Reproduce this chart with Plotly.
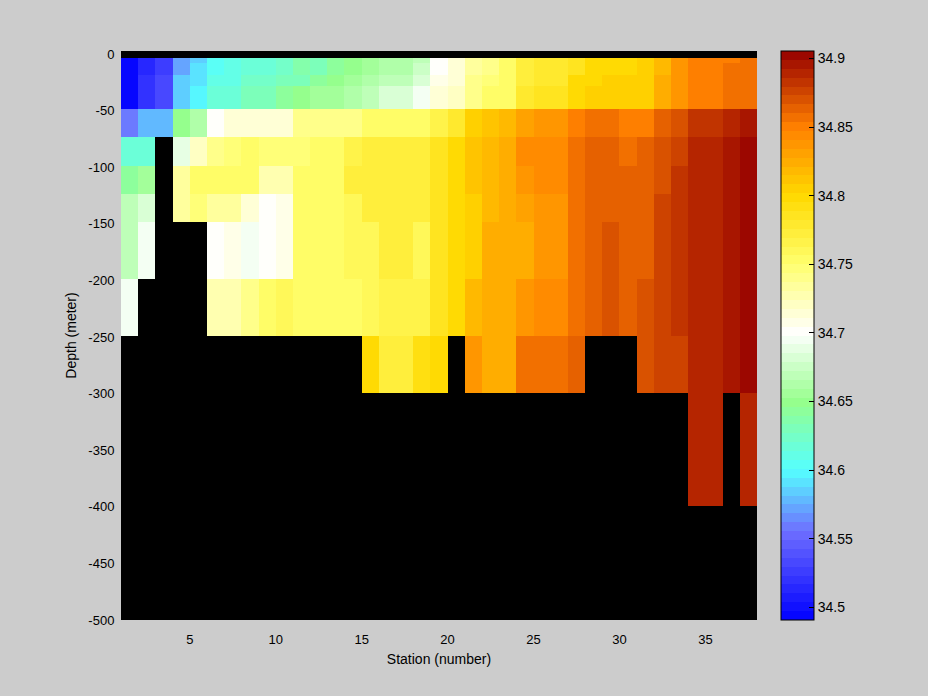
import plotly.graph_objects as go

N = None
stations = list(range(1, 39))
depth_edges = [2.65, -3.5, -8, -18.5, -28.3, -48.7, -73.3, -99, -123.7, -148.4, -198.8, -249.1, -299.5, -399.3, -500]

row_surface = [N] * 37
row_a = [34.495,34.515,34.525,34.572,34.585,34.605,34.612,34.618,34.618,34.624,34.635,34.632,34.640,34.650,34.658,34.665,34.665,34.670,34.700,34.712,34.735,34.740,34.750,34.770,34.780,34.780,34.788,34.797,34.800,34.800,34.805,34.820,34.835,34.850,34.850,34.850,34.857]
row_b = [34.495,34.515,34.525,34.572,34.592,34.605,34.612,34.618,34.618,34.624,34.635,34.632,34.640,34.650,34.658,34.665,34.665,34.678,34.700,34.712,34.735,34.740,34.750,34.770,34.780,34.780,34.788,34.797,34.800,34.800,34.805,34.820,34.835,34.850,34.850,34.857,34.857]
row_c = [34.495,34.520,34.535,34.582,34.592,34.608,34.612,34.625,34.625,34.632,34.630,34.640,34.648,34.655,34.660,34.672,34.672,34.680,34.705,34.712,34.742,34.745,34.750,34.775,34.780,34.782,34.797,34.800,34.807,34.807,34.807,34.825,34.835,34.850,34.850,34.857,34.857]
row_d = [34.495,34.520,34.535,34.582,34.598,34.615,34.620,34.628,34.628,34.645,34.650,34.655,34.655,34.665,34.672,34.682,34.682,34.692,34.715,34.720,34.740,34.752,34.755,34.782,34.785,34.785,34.797,34.802,34.807,34.807,34.807,34.825,34.835,34.850,34.850,34.857,34.857]
row_e = [34.560,34.575,34.580,34.648,34.665,34.703,34.712,34.716,34.716,34.716,34.737,34.737,34.742,34.740,34.750,34.750,34.750,34.755,34.768,34.782,34.805,34.810,34.815,34.830,34.838,34.838,34.850,34.856,34.856,34.852,34.852,34.864,34.871,34.886,34.886,34.892,34.898]
row_f = [34.620,34.620,N,34.690,34.720,34.742,34.746,34.750,34.744,34.748,34.748,34.752,34.755,34.765,34.775,34.775,34.775,34.775,34.788,34.797,34.812,34.820,34.825,34.845,34.845,34.845,34.856,34.864,34.864,34.856,34.864,34.871,34.878,34.889,34.889,34.897,34.903]
row_g = [34.645,34.655,N,34.735,34.750,34.750,34.750,34.750,34.730,34.730,34.750,34.752,34.755,34.770,34.775,34.775,34.775,34.775,34.785,34.797,34.812,34.820,34.825,34.840,34.845,34.845,34.856,34.864,34.864,34.864,34.864,34.868,34.883,34.889,34.889,34.897,34.903]
row_h = [34.672,34.682,N,34.733,34.745,34.733,34.733,34.716,34.703,34.708,34.750,34.750,34.750,34.760,34.772,34.772,34.772,34.772,34.785,34.797,34.805,34.815,34.822,34.832,34.838,34.838,34.856,34.864,34.864,34.864,34.864,34.874,34.883,34.889,34.889,34.897,34.903]
row_i = [34.672,34.698,N,N,N,34.704,34.708,34.698,34.704,34.708,34.750,34.750,34.750,34.760,34.758,34.770,34.770,34.762,34.785,34.797,34.805,34.822,34.827,34.827,34.838,34.838,34.856,34.864,34.871,34.864,34.864,34.874,34.883,34.889,34.889,34.897,34.903]
row_j = [34.698,N,N,N,N,34.730,34.730,34.737,34.755,34.760,34.750,34.750,34.750,34.755,34.762,34.768,34.768,34.768,34.785,34.797,34.815,34.822,34.827,34.838,34.845,34.845,34.856,34.864,34.871,34.864,34.871,34.874,34.883,34.889,34.889,34.897,34.903]
row_k = [N]*14 + [34.797,34.775,34.775,34.790,34.797,N,34.840,34.822,34.827,34.857,34.857,34.857,34.864,N,N,N,34.871,34.877,34.877,34.889,34.889,34.897,34.903]
row_l = [N]*33 + [34.889,34.889,N,34.889]
row_bottom = [N] * 37
salinity = [row_surface,row_a,row_b,row_c,row_d,row_e,row_f,row_g,row_h,row_i,row_j,row_k,row_l,row_bottom]

x_ticks = [5,10,15,20,25,30,35]
y_ticks = [0,-50,-100,-150,-200,-250,-300,-350,-400,-450,-500]
y_text = ["0","-50","-100","-150","-200","-250","-300","-350","-400","-450","-500"]
cbar_ticks = [34.5,34.55,34.6,34.65,34.7,34.75,34.8,34.85,34.9]
cbar_text = ["34.5","34.55","34.6","34.65","34.7","34.75","34.8","34.85","34.9"]

ZMIN, ZMAX = 34.4907, 34.9055
anchors = [(34.4907,(0,0,255)),(34.555,(110,110,255)),(34.60,(85,255,255)),(34.65,(150,255,140)),
           (34.70,(255,255,255)),(34.75,(255,255,110)),(34.80,(255,217,0)),(34.85,(255,128,0)),(34.9055,(150,0,0))]

def colour_at(v):
    for (a, ca), (b, cb) in zip(anchors, anchors[1:]):
        if v <= b:
            f = (v - a) / (b - a)
            return tuple(round(p + (q - p) * f) for p, q in zip(ca, cb))
    return anchors[-1][1]

N_BANDS = 64
scale = []
for i in range(N_BANDS):
    r, g, b = colour_at(ZMIN + (ZMAX - ZMIN) * (i + 0.5) / N_BANDS)
    c = f"rgb({r},{g},{b})"
    scale += [[i / N_BANDS, c], [(i + 1) / N_BANDS, c]]

FONT = "Liberation Sans"
fig = go.Figure(go.Heatmap(
    x=stations, y=depth_edges, z=salinity, zmin=ZMIN, zmax=ZMAX, colorscale=scale,
    hoverongaps=False,
    colorbar=dict(x=1.0377, xanchor="left", xpad=0, ypad=0, y=0.5, yanchor="middle",
                  lenmode="fraction", len=1, thicknessmode="pixels", thickness=33,
                  outlinecolor="black", outlinewidth=1, ticks="inside", ticklen=5,
                  tickcolor="black", tickwidth=1, tickvals=cbar_ticks, ticktext=cbar_text,
                  tickfont=dict(family=FONT, size=14, color="black"))))

shapes = []
for v in cbar_ticks:
    yp = (v - ZMIN) / (ZMAX - ZMIN)
    shapes.append(dict(type="line", xref="paper", yref="paper", x0=1.0377, x1=1.0377 + 5 / 636,
                       y0=yp, y1=yp, line=dict(color="black", width=1)))

fig.update_layout(
    width=928, height=696, autosize=False,
    margin=dict(l=121, r=171, t=51, b=76),
    paper_bgcolor="#cccccc", plot_bgcolor="black",
    font=dict(family=FONT, size=13, color="black"),
    shapes=shapes,
    xaxis=dict(range=[1, 38], tickvals=x_ticks, showgrid=False, zeroline=False,
               ticks="outside", ticklen=7, tickcolor="rgba(0,0,0,0)",
               title=dict(text="Station (number)", font=dict(size=14), standoff=8)),
    yaxis=dict(range=[-500, 2.65], tickvals=y_ticks, ticktext=y_text, showgrid=False, zeroline=False,
               ticks="outside", ticklen=3, tickcolor="rgba(0,0,0,0)",
               title=dict(text="Depth (meter)", font=dict(size=14), standoff=8)),
)
fig.write_html("out.html", config={"displayModeBar": False},
               post_script="document.body.style.margin='0';document.body.style.overflow='hidden';")
